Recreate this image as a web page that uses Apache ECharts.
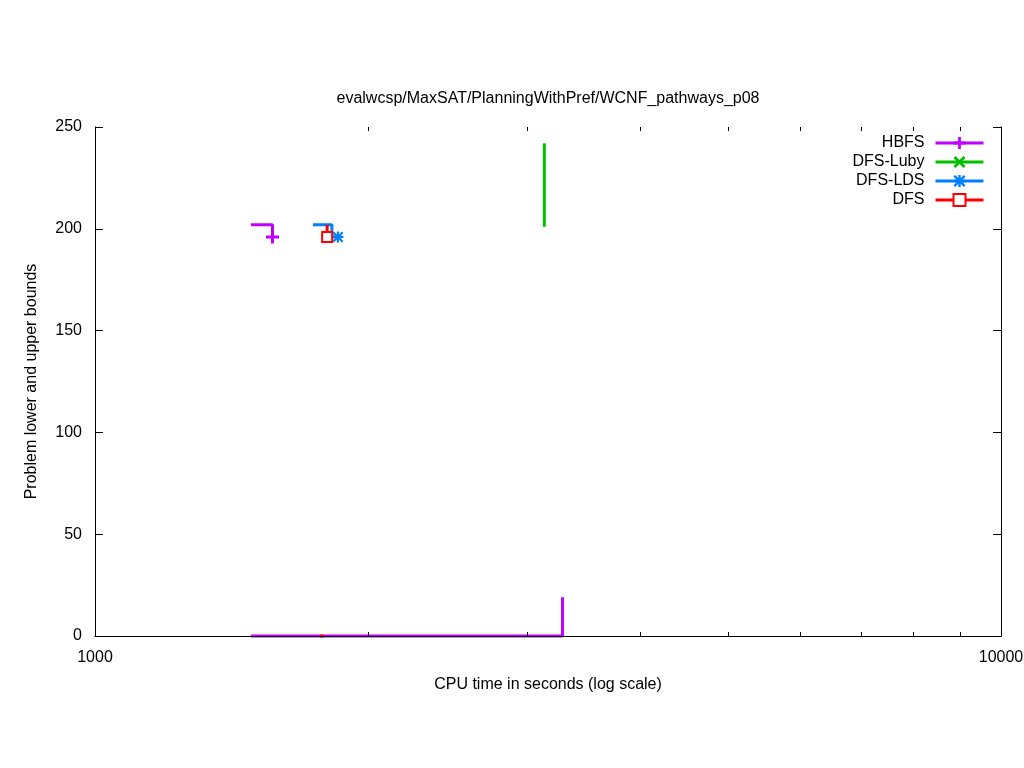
<!DOCTYPE html>
<html>
<head>
<meta charset="utf-8">
<script src="https://cdn.jsdelivr.net/npm/echarts@6/dist/echarts.min.js"></script>
<style>html,body{margin:0;padding:0;background:#fff}#c{width:1024px;height:768px}</style>
</head>
<body>
<div id="c"></div>
<script>
// ---- data ----
const chartTitle = 'evalwcsp/MaxSAT/PlanningWithPref/WCNF_pathways_p08';
const xName = 'CPU time in seconds (log scale)';
const yName = 'Problem lower and upper bounds';
const legendNames = ['HBFS', 'DFS-Luby', 'DFS-LDS', 'DFS'];

const hbfsUpperT = [1486, 1570, 1570];
const hbfsUpperV = [202, 202, 196];
const hbfsLowerT = [1486, 3281, 3281];
const hbfsLowerV = [0, 0, 19];
const lubyUpperT = [3133, 3133];
const lubyUpperV = [242, 201];
const ldsUpperT = [1740, 1826, 1826, 1854];
const ldsUpperV = [202, 202, 196, 196];
const dfsUpperT = [1804, 1804];
const dfsUpperV = [202, 196];
const dfsLowerT = [1772, 1787];
const dfsLowerV = [0, 0];

const xMin = 1000, xMax = 10000;
const yMin = 0, yMax = 250, yStep = 50;
const xMinorTicks = [2000, 3000, 4000, 5000, 6000, 7000, 8000, 9000];

// ---- styles ----
const FONT = 'Liberation Sans, Arial, sans-serif';
const colors = {HBFS: '#c000ff', 'DFS-Luby': '#00c000', 'DFS-LDS': '#0080ff', DFS: '#ff0000'};
const plusPath = 'path://M3.85,0H6.15V3.85H10V6.15H6.15V10H3.85V6.15H0V3.85H3.85Z';
const xPath = 'path://M0,1.6L1.6,0L5,3.4L8.4,0L10,1.6L6.6,5L10,8.4L8.4,10L5,6.6L1.6,10L0,8.4L3.4,5Z';
const starPath = 'path://M4,0H6V4H10V6H6V10H4V6H0V4H4ZM0,1.4L1.4,0L5,3.6L8.6,0L10,1.4L6.4,5L10,8.6L8.6,10L5,6.4L1.4,10L0,8.6L3.6,5Z';

function pts(ts, vs, markLast) {
  return ts.map((t, i) => {
    const item = {value: [t, vs[i]]};
    if (!(markLast && i === ts.length - 1)) item.symbol = 'none';
    return item;
  });
}
function lineSeries(name, color, symbol, size, data, extraItem) {
  return {
    type: 'line', name: name, data: data, clip: false,
    symbol: symbol, symbolSize: size, showSymbol: true,
    lineStyle: {color: color, width: 3},
    itemStyle: Object.assign({color: color, borderWidth: 0}, extraItem || {}),
    animation: false, silent: true, z: 2
  };
}

const series = [
  lineSeries('HBFS', colors.HBFS, plusPath, 13, pts(hbfsUpperT, hbfsUpperV, true)),
  lineSeries('HBFS lower', colors.HBFS, 'none', 1, pts(hbfsLowerT, hbfsLowerV, false)),
  lineSeries('DFS-Luby', colors['DFS-Luby'], xPath, 11, pts(lubyUpperT, lubyUpperV, false)),
  lineSeries('DFS-LDS', colors['DFS-LDS'], starPath, 11, pts(ldsUpperT, ldsUpperV, true)),
  lineSeries('DFS', colors.DFS, 'emptyRect', 10, pts(dfsUpperT, dfsUpperV, true), {borderWidth: 2.5, borderColor: colors.DFS}),
  lineSeries('DFS lower', colors.DFS, 'none', 1, pts(dfsLowerT, dfsLowerV, false)),
  {
    type: 'custom', name: 'minor ticks', silent: true, z: 5, animation: false,
    data: xMinorTicks.map(v => [v, yMin]),
    renderItem: function (params, api) {
      const v = api.value(0);
      const b = api.coord([v, yMin]);
      const t = api.coord([v, yMax]);
      const x = Math.round(b[0]) + 0.5;
      return {type: 'group', children: [
        {type: 'line', shape: {x1: x, y1: b[1], x2: x, y2: b[1] - 4}, style: {stroke: '#000', lineWidth: 1}},
        {type: 'line', shape: {x1: x, y1: t[1], x2: x, y2: t[1] + 4}, style: {stroke: '#000', lineWidth: 1}}
      ]};
    }
  }
];

const axisLine = {show: true, lineStyle: {color: '#000', width: 1}};
const option = {
  backgroundColor: '#fff',
  animation: false,
  title: {
    text: chartTitle, left: 548, top: 91, padding: 0, textAlign: 'center',
    textStyle: {fontFamily: FONT, fontSize: 16, fontWeight: 'normal', color: '#000'}
  },
  legend: {
    data: legendNames, orient: 'vertical', align: 'right',
    right: 39, top: 135, padding: 0, itemWidth: 48, itemHeight: 15, itemGap: 3,
    selectedMode: false,
    lineStyle: {width: 3},
    textStyle: {fontFamily: FONT, fontSize: 16, color: '#000', padding: [0, 6, 0, 0]}
  },
  grid: {left: 95, right: 23, top: 127, bottom: 132, containLabel: false, outerBoundsMode: 'none'},
  xAxis: [
    {
      type: 'log', logBase: 10, min: xMin, max: xMax, position: 'bottom', z: 10,
      name: xName, nameLocation: 'middle', nameGap: 41,
      nameTextStyle: {fontFamily: FONT, fontSize: 16, color: '#000'},
      axisLine: axisLine, axisTick: {show: false}, splitLine: {show: false}, minorTick: {show: false},
      axisLabel: {fontFamily: FONT, fontSize: 16, color: '#000', margin: 14,
        formatter: v => String(Math.round(v))}
    },
    {
      type: 'log', logBase: 10, min: xMin, max: xMax, position: 'top', z: 10,
      axisLine: axisLine, axisTick: {show: false}, axisLabel: {show: false}, splitLine: {show: false}
    }
  ],
  yAxis: [
    {
      type: 'value', min: yMin, max: yMax, interval: yStep, position: 'left', z: 10,
      name: yName, nameLocation: 'middle', nameGap: 55, nameRotate: 90,
      nameTextStyle: {fontFamily: FONT, fontSize: 16, color: '#000'},
      axisLine: axisLine, axisTick: {show: true, inside: true, length: 8, lineStyle: {color: '#000'}},
      splitLine: {show: false},
      axisLabel: {fontFamily: FONT, fontSize: 16, color: '#000', margin: 13}
    },
    {
      type: 'value', min: yMin, max: yMax, interval: yStep, position: 'right', z: 10,
      axisLine: axisLine, axisTick: {show: true, inside: true, length: 8, lineStyle: {color: '#000'}},
      splitLine: {show: false}, axisLabel: {show: false}
    }
  ],
  series: series
};

const chart = echarts.init(document.getElementById('c'), null, {renderer: 'canvas'});
chart.setOption(option);
</script>
</body>
</html>
